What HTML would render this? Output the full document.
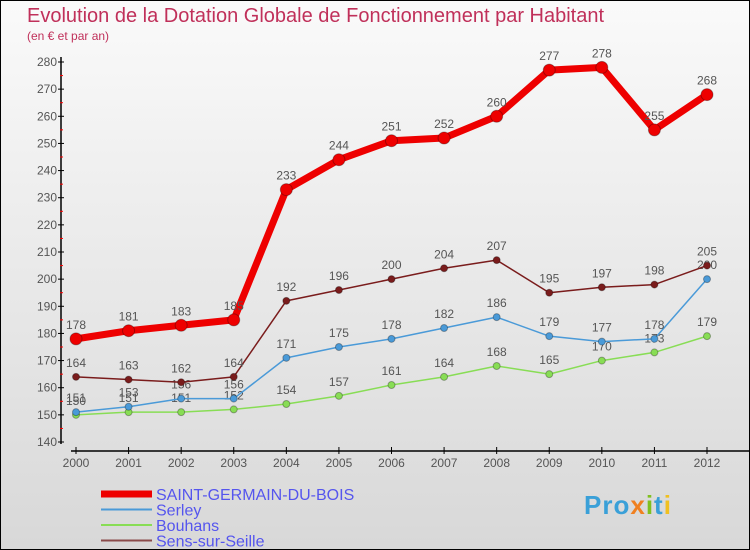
<!DOCTYPE html>
<html><head><meta charset="utf-8"><style>
body{margin:0}
#c{position:relative;width:748px;height:548px;border:1px solid #000;background:linear-gradient(#fafafa,#d8d8d8);font-family:"Liberation Sans",sans-serif;overflow:hidden}
.t{position:absolute;left:26px;top:4px;font-size:20px;color:#c0305a;letter-spacing:0px}
.s{position:absolute;left:26px;top:28px;font-size:12px;color:#c0305a}
</style></head><body>
<div id="c">
<div class="t">Evolution de la Dotation Globale de Fonctionnement par Habitant</div>
<div class="s">(en € et par an)</div>
<svg id="svg" width="748" height="548" style="position:absolute;left:0;top:0"></svg>
<div style="position:absolute;left:583px;top:489px;font-size:26px;font-weight:bold;font-family:'Liberation Sans',sans-serif;color:#3aa0d8;letter-spacing:1px">Pro<span style="color:#f08020">x</span><span style="color:#80c020">i</span>t<span style="color:#f0c020">i</span></div>
</div>
<script>
const years=[2000,2001,2002,2003,2004,2005,2006,2007,2008,2009,2010,2011,2012];
const yTicks=[140,150,160,170,180,190,200,210,220,230,240,250,260,270,280];
const sgdb=[178,181,183,185,233,244,251,252,260,277,278,255,268];
const serley=[151,153,156,156,171,175,178,182,186,179,177,178,200];
const bouhans=[150,151,151,152,154,157,161,164,168,165,170,173,179];
const sens=[164,163,162,164,192,196,200,204,207,195,197,198,205];
const svg=document.getElementById('svg');const NS='http://www.w3.org/2000/svg';
function X(i){return 75+i*(706-75)/(years.length-1);}
function Y(v){return 441-(v-140)*(441-61)/140;}
function mk(t,a,p){const e=document.createElementNS(NS,t);for(const k in a)e.setAttribute(k,a[k]);(p||svg).appendChild(e);return e;}
let ax=mk('line',{x1:60,y1:56,x2:60,y2:443,stroke:'#000','stroke-width':1.5});


yTicks.forEach(v=>{mk('line',{x1:57,x2:63,y1:Y(v),y2:Y(v),stroke:'#000'});
 if(v<280)mk('line',{x1:59,x2:62,y1:Y(v+5),y2:Y(v+5),stroke:'#f00'});
 const t=mk('text',{x:56,y:Y(v)+4,'text-anchor':'end','font-size':12,fill:'#555'});t.textContent=v;
 
 });
let xa=mk('line',{x1:70,y1:450,x2:748,y2:450,stroke:'#000','stroke-width':1.5});


years.forEach((y,i)=>{mk('line',{x1:X(i),x2:X(i),y1:446,y2:453,stroke:'#000'});
 const t=mk('text',{x:X(i),y:466,'text-anchor':'middle','font-size':12,fill:'#555'});t.textContent=y;
 
 });
function series(d,col,w,r,name){
 const g=mk('g',{});
 
 
 mk('polyline',{points:d.map((v,i)=>X(i)+','+Y(v)).join(' '),fill:'none',stroke:col,'stroke-width':w,'stroke-linejoin':'round'},g);
 d.forEach((v,i)=>{const c=mk('circle',{cx:X(i),cy:Y(v),r:r,fill:col,stroke:'rgba(0,0,0,0.3)'},g);
  
  
  const t=mk('text',{x:X(i),y:Y(v)-10,'text-anchor':'middle','font-size':12,fill:'#555'},g);t.textContent=v;});
}
series(bouhans,'#88dd55',1.5,3.5,'bouhans');
series(serley,'#4a9ad8',1.5,3.5,'serley');
series(sens,'#7a1c1c',1.5,3.5,'sens-sur-seille');
series(sgdb,'#ee0000',7,6,'saint-germain-du-bois');
const leg=[['SAINT-GERMAIN-DU-BOIS','#ee0000',7],['Serley','#4a9ad8',2],['Bouhans','#88dd55',2],['Sens-sur-Seille','#8a4a4a',2]];
leg.forEach((l,i)=>{const y=493+i*15.5;
 const g=mk('g',{});
 
 
 mk('line',{x1:100,x2:151,y1:y,y2:y,stroke:l[1],'stroke-width':l[2]},g);
 const t=mk('text',{x:155,y:y+6,'font-size':16,fill:'#5555ee'},g);t.textContent=l[0];});
</script>
</body></html>
